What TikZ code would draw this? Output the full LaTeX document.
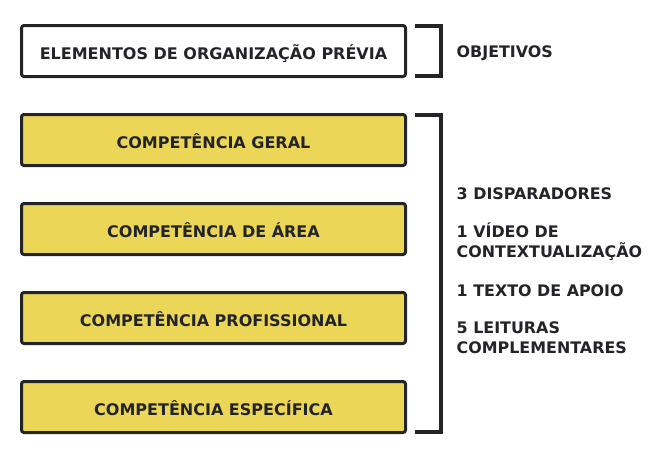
\documentclass[tikz,border=0pt]{standalone}
\usepackage{fontspec}
\setmainfont{DejaVu Sans}
\definecolor{ink}{RGB}{34,36,40}
\definecolor{gold}{RGB}{236,214,88}
\tikzset{
  box/.style={draw=ink, line width=3pt, rounded corners=2.5pt, minimum width=384pt, minimum height=51pt,
    inner sep=0pt, text=ink, font=\fontsize{16}{19}\selectfont\bfseries, text height=16.6pt, text depth=0pt},
  whitebox/.style={box, fill=white},
  yellowbox/.style={box, fill=gold},
  brack/.style={draw=ink, line width=4pt, line join=miter},
  item/.style={anchor=base west, inner sep=0pt, text=ink, font=\fontsize{15.9}{19}\selectfont\bfseries}
}
\begin{document}
\begin{tikzpicture}[x=1pt,y=-1pt]
\useasboundingbox (0,0) rectangle (653,463);
\node[whitebox] (b0) at (213.5,51) {ELEMENTOS DE ORGANIZAÇÃO PRÉVIA};
\node[yellowbox] (b1) at (213.5,140) {COMPETÊNCIA GERAL};
\node[yellowbox] (b2) at (213.5,229) {COMPETÊNCIA DE ÁREA};
\node[yellowbox] (b3) at (213.5,318) {COMPETÊNCIA PROFISSIONAL};
\node[yellowbox] (b4) at (213.5,407) {COMPETÊNCIA ESPECÍFICA};
% brackets
\coordinate (p1) at (415,26);
\coordinate (p2) at (441,26);
\coordinate (p3) at (441,76);
\coordinate (p4) at (415,76);
\draw[brack] (p1) -- (p2) -- (p3) -- (p4);
\coordinate (q1) at (415,115);
\coordinate (q2) at (441,115);
\coordinate (q3) at (441,432);
\coordinate (q4) at (415,432);
\draw[brack] (q1) -- (q2) -- (q3) -- (q4);
% texts
\node[item] (obj) at (456.5,57) {OBJETIVOS};
\node[item] (t1) at (456.5,199) {3 DISPARADORES};
\node[item] (t2a) at (456.5,237) {1 VÍDEO DE};
\node[item] (t2b) at (456.5,257.5) {CONTEXTUALIZAÇÃO};
\node[item] (t3) at (456.5,296) {1 TEXTO DE APOIO};
\node[item] (t4a) at (456.5,333) {5 LEITURAS};
\node[item] (t4b) at (456.5,353.5) {COMPLEMENTARES};
\end{tikzpicture}
\end{document}
